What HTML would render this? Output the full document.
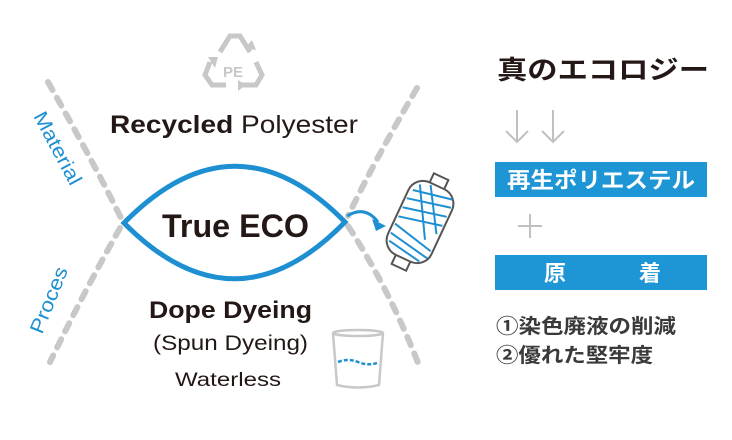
<!DOCTYPE html>
<html><head><meta charset="utf-8"><style>
html,body{margin:0;padding:0;background:#fff;}
svg{display:block;}
text{font-family:"Liberation Sans","Noto Sans CJK JP",sans-serif;}
</style></head><body>
<svg width="732" height="440" viewBox="0 0 732 440" xmlns="http://www.w3.org/2000/svg">
<g stroke="#c8c8c8" stroke-width="6" stroke-linecap="round" stroke-dasharray="9 9" fill="none">
<path d="M48 82 Q95 165 122 220"/>
<path d="M120 228 Q85 290 50 362"/>
<path d="M417 88 Q375 160 348 216"/>
<path d="M348 226 Q390 290 420 368"/>
</g>
<path d="M124 223 Q235 110 345 222 Q235 335 124 223 Z" fill="#fff" stroke="#1e90d2" stroke-width="5"/>
<text x="162" y="237" font-size="32" font-weight="bold" fill="#231815" textLength="147" lengthAdjust="spacingAndGlyphs">True ECO</text>
<path d="M347 216 Q365 205 378 222" stroke="#1e90d2" stroke-width="3" fill="none"/>
<path d="M386 226 L372 219 L376 231 Z" fill="#1e90d2"/>
<g stroke="#c8c8c8" stroke-width="5" fill="none">
<path d="M220 52 L230 36 L240 36 L250 52"/>
<path d="M210 62 L205 75 L212 85 L226 85"/>
<path d="M242 85 L256 85 L262 75 L256 62"/>
</g>
<g fill="#c8c8c8"><path d="M245 48 L256 50 L252 40 Z"/><path d="M208 57 L215 68 L218 57 Z"/><path d="M238 80 L238 91 L246 85 Z"/></g>
<text x="233" y="77" font-size="15" font-weight="bold" fill="#c8c8c8" text-anchor="middle">PE</text>
<text x="110" y="133" font-size="25" fill="#231815" textLength="248" lengthAdjust="spacingAndGlyphs"><tspan font-weight="bold">Recycled</tspan> Polyester</text>
<text transform="translate(33 116) rotate(62)" font-size="20" fill="#1e90d2" textLength="80" lengthAdjust="spacingAndGlyphs">Material</text>
<text transform="translate(42 335) rotate(-68)" font-size="20" fill="#1e90d2" textLength="70" lengthAdjust="spacingAndGlyphs">Proces</text>
<text x="149" y="318" font-size="24" font-weight="bold" fill="#231815" textLength="163" lengthAdjust="spacingAndGlyphs">Dope Dyeing</text>
<text x="153" y="350" font-size="21" fill="#231815" textLength="155" lengthAdjust="spacingAndGlyphs">(Spun Dyeing)</text>
<text x="175" y="386" font-size="19" fill="#231815" textLength="106" lengthAdjust="spacingAndGlyphs">Waterless</text>
<ellipse cx="358" cy="333" rx="25" ry="3" fill="none" stroke="#c8c8c8" stroke-width="2.5"/>
<path d="M333 333 L337 385 Q358 390 379 385 L383 333" fill="none" stroke="#c8c8c8" stroke-width="2.5"/>
<path d="M338 362 Q348 358 358 362 Q368 366 377 363" stroke="#1e90d2" stroke-width="2.5" stroke-dasharray="4 2" fill="none"/>
<g transform="rotate(25 420 222)">
<rect x="412" y="172" width="16" height="12" fill="#fff" stroke="#555" stroke-width="2"/>
<rect x="412" y="260" width="16" height="12" fill="#fff" stroke="#555" stroke-width="2"/>
<rect x="396" y="182" width="48" height="80" rx="16" fill="#fff" stroke="#555" stroke-width="2"/>
<g stroke="#1e90d2" stroke-width="2">
<line x1="400" y1="196" x2="440" y2="188"/><line x1="398" y1="206" x2="442" y2="196"/><line x1="398" y1="216" x2="442" y2="206"/><line x1="398" y1="226" x2="442" y2="216"/>
<line x1="398" y1="234" x2="442" y2="244"/><line x1="398" y1="244" x2="442" y2="252"/><line x1="400" y1="252" x2="436" y2="258"/>
<line x1="404" y1="188" x2="432" y2="236"/><line x1="414" y1="184" x2="440" y2="226"/>
</g>
</g>
<text x="497" y="79" font-size="26" font-weight="bold" fill="#231815" textLength="212" lengthAdjust="spacingAndGlyphs">真のエコロジー</text>
<g stroke="#c0c0c0" stroke-width="2" fill="none">
<path d="M517 110 L517 142 M506 131 L517 142 L528 131"/>
<path d="M553 110 L553 142 M542 131 L553 142 L564 131"/>
<path d="M530 214 L530 238 M518 226 L542 226"/>
</g>
<rect x="495" y="162" width="212" height="35" fill="#1e96d6"/>
<text x="507" y="188" font-size="22" font-weight="bold" fill="#fff" textLength="188" lengthAdjust="spacingAndGlyphs">再生ポリエステル</text>
<rect x="495" y="255" width="212" height="35" fill="#1e96d6"/>
<text x="555" y="281" font-size="22" font-weight="bold" fill="#fff" text-anchor="middle">原</text>
<text x="650" y="281" font-size="22" font-weight="bold" fill="#fff" text-anchor="middle">着</text>
<text x="496" y="333" font-size="20" font-weight="bold" fill="#3a3a3a" textLength="180" lengthAdjust="spacingAndGlyphs">①染色廃液の削減</text>
<text x="496" y="362" font-size="20" font-weight="bold" fill="#3a3a3a" textLength="157" lengthAdjust="spacingAndGlyphs">②優れた堅牢度</text>
</svg>
</body></html>
